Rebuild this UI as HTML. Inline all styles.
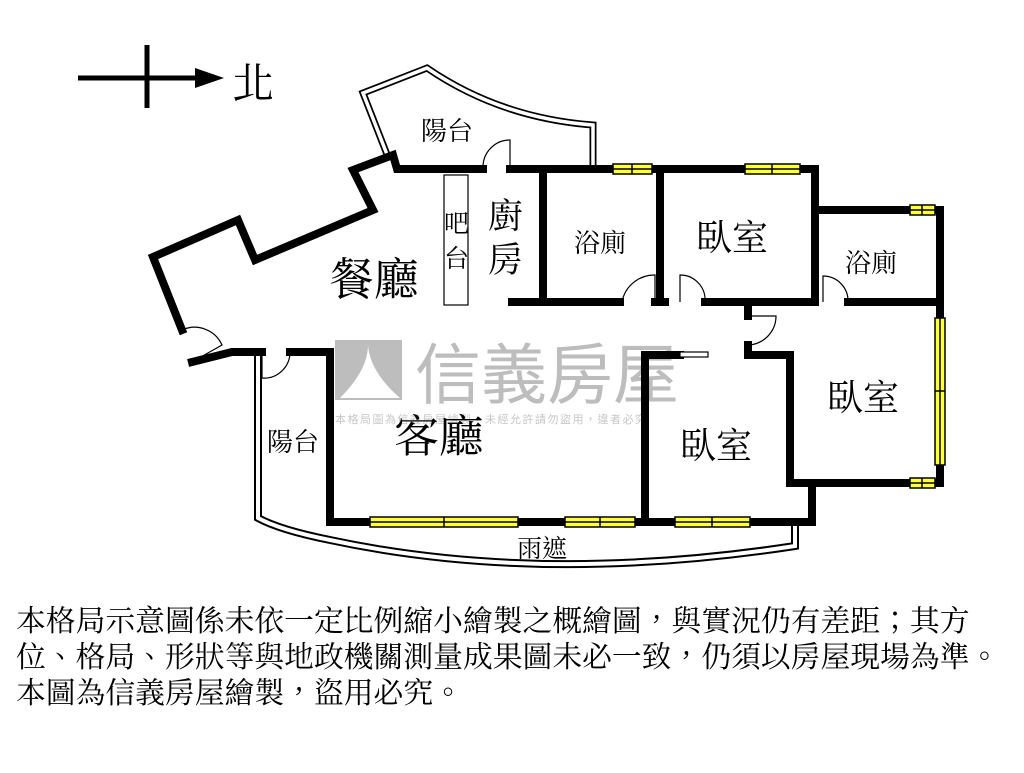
<!DOCTYPE html>
<html><head><meta charset="utf-8"><style>
body{margin:0;background:#fff;width:1024px;height:768px;overflow:hidden}
svg text{font-family:"Liberation Serif","Noto Serif CJK TC","Noto Serif CJK SC",serif;fill:#000}
</style></head><body>
<svg width="1024" height="768" viewBox="0 0 1024 768" xmlns="http://www.w3.org/2000/svg">
<line x1="78" y1="78" x2="200" y2="78" stroke="#000" stroke-width="5"/>
<line x1="147" y1="45" x2="147" y2="108" stroke="#000" stroke-width="5"/>
<polygon points="195,68 224,78 195,88" fill="#000"/>
<text x="232" y="98" font-size="42">北</text>

<g opacity="0.55">
<rect x="335" y="340" width="67" height="60" fill="#888"/>
<path d="M340,398 Q368,370 368,345 Q370,372 400,398Z" fill="#fff"/>
<text x="415" y="398" font-size="66" style="fill:#888;font-family:'Noto Sans CJK TC',sans-serif">信義房屋</text>
<text x="335" y="423" font-size="11" style="fill:#999;font-family:'Noto Sans CJK TC',sans-serif" letter-spacing="1.5">本格局圖為信義房屋繪製，未經允許請勿盜用，違者必究</text>
</g>

<path d="M388,157 L363,93 L427,68 Q500,118 593,125 L593,167" fill="none" stroke="#000" stroke-width="7"/>
<path d="M388,157 L363,93 L427,68 Q500,118 593,125 L593,167" fill="none" stroke="#fff" stroke-width="3.5"/>

<path d="M258,352 L258,518 Q280,530 330,540 Q540,585 795,546 L795,525" fill="none" stroke="#000" stroke-width="8"/>
<path d="M258,352 L258,518 Q280,530 330,540 Q540,585 795,546 L795,525" fill="none" stroke="#fff" stroke-width="4"/>

<rect x="444" y="175" width="24" height="130" fill="#fff" stroke="#000" stroke-width="1.2"/>

<g stroke="#000" stroke-width="8" fill="none" stroke-linejoin="miter" stroke-linecap="square">
<polyline points="483,169 397,169 393,155 353,170 373,210 255,260 238,220 153,257 182,330"/>
<polyline points="192,362 232,352 262,352"/>
<line x1="290" y1="352" x2="330" y2="352"/>
<line x1="330" y1="352" x2="330" y2="522"/>
<line x1="510" y1="169" x2="815" y2="169"/>
<line x1="543" y1="169" x2="543" y2="302"/>
<line x1="512" y1="302" x2="620" y2="302"/>
<line x1="655" y1="302" x2="665" y2="302"/>
<line x1="660" y1="169" x2="660" y2="302"/>
<line x1="705" y1="302" x2="815" y2="302"/>
<line x1="815" y1="169" x2="815" y2="302"/>
<line x1="848" y1="302" x2="940" y2="302"/>
<polyline points="815,210 940,210 940,483 790,483 790,355 748,355"/>
<line x1="748" y1="302" x2="748" y2="316"/>
<line x1="748" y1="345" x2="748" y2="355"/>
<polyline points="680,355 645,355 645,522"/>
<polyline points="330,522 812,522 812,483"/>
</g>

<g fill="#ffff33" stroke="#000" stroke-width="1.5">
<rect x="613" y="164" width="39" height="10"/><line x1="613" y1="169" x2="652" y2="169"/><line x1="632" y1="164" x2="632" y2="174"/>
<rect x="745" y="164" width="55" height="10"/><line x1="745" y1="169" x2="800" y2="169"/><line x1="772" y1="164" x2="772" y2="174"/>
<rect x="910" y="205" width="25" height="10"/><line x1="910" y1="210" x2="935" y2="210"/><line x1="922" y1="205" x2="922" y2="215"/>
<rect x="935" y="318" width="10" height="147"/><line x1="940" y1="318" x2="940" y2="465"/><line x1="935" y1="391" x2="945" y2="391"/>
<rect x="910" y="478" width="25" height="10"/><line x1="910" y1="483" x2="935" y2="483"/><line x1="922" y1="478" x2="922" y2="488"/>
<rect x="370" y="517" width="148" height="10"/><line x1="370" y1="522" x2="518" y2="522"/><line x1="444" y1="517" x2="444" y2="527"/>
<rect x="565" y="517" width="70" height="10"/><line x1="565" y1="522" x2="635" y2="522"/><line x1="600" y1="517" x2="600" y2="527"/>
<rect x="675" y="517" width="75" height="10"/><line x1="675" y1="522" x2="750" y2="522"/><line x1="712" y1="517" x2="712" y2="527"/>
</g>

<g stroke="#000" stroke-width="1.2" fill="none">
<path d="M510,169 L510,140 A27,27 0 0 0 483,167"/>
<path d="M655,302 L655,275 A33,33 0 0 0 622,302"/>
<path d="M680,302 L680,275 A25,25 0 0 1 705,302"/>
<path d="M823,302 L823,276 A25,25 0 0 1 848,302"/>
<path d="M748,316 L776,316 A29,29 0 0 1 748,345"/>
<path d="M262,352 L262,378 A26,26 0 0 0 290,352"/>
<path d="M182,330 A30,30 0 0 1 222,345 L192,362"/>
<rect x="680" y="352" width="28" height="5" fill="#fff"/>
</g>

<text x="421" y="140" font-size="26">陽台</text>
<text x="444" y="232" font-size="25">吧</text>
<text x="444" y="267" font-size="25">台</text>
<text x="488" y="228" font-size="35">廚</text>
<text x="488" y="272" font-size="35">房</text>
<text x="574" y="252" font-size="26">浴廁</text>
<text x="696" y="250" font-size="36">臥室</text>
<text x="845" y="272" font-size="26">浴廁</text>
<text x="329" y="295" font-size="45">餐廳</text>
<text x="827" y="410" font-size="36">臥室</text>
<text x="267" y="451" font-size="26">陽台</text>
<text x="394" y="452" font-size="45">客廳</text>
<text x="680" y="458" font-size="36">臥室</text>
<text x="517" y="557" font-size="25">雨遮</text>

<text x="16" y="631" font-size="29.8">本格局示意圖係未依一定比例縮小繪製之概繪圖，與實況仍有差距；其方</text>
<text x="16" y="667" font-size="29.8">位、格局、形狀等與地政機關測量成果圖未必一致，仍須以房屋現場為準。</text>
<text x="16" y="703" font-size="29.8">本圖為信義房屋繪製，盜用必究。</text>
</svg>
</body></html>
